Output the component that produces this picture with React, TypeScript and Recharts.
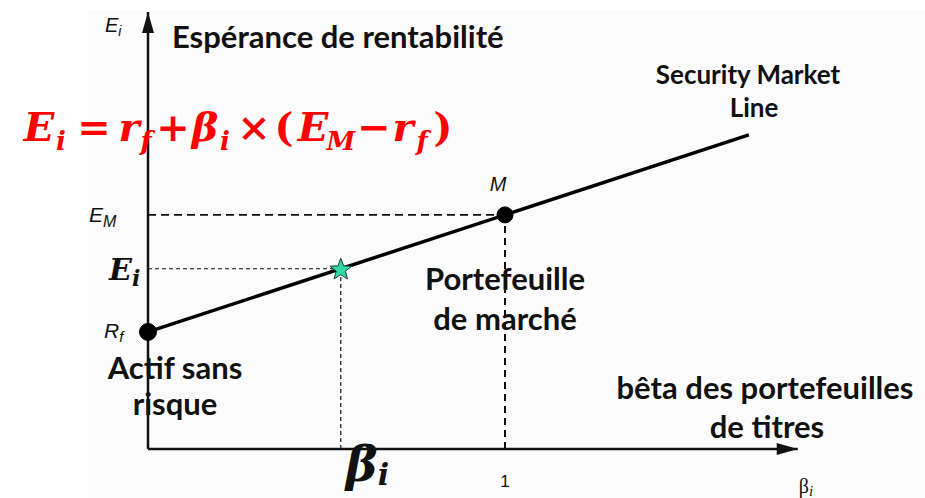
import React from 'react';
import { LineChart, Line, XAxis, YAxis, ReferenceLine, ReferenceDot } from 'recharts';

// Security Market Line (beta, expected return)
const smlBeta = [0, 1.683];
const smlReturn = [3, 8.05];

// named points on the line
const riskFree = { beta: 0, ret: 3 };
const market = { beta: 1, ret: 6 };
const asset = { beta: 0.54, ret: 4.62 };

// axis extents (arrow tips)
const xMax = 2;
const yMax = 11.2;
const xArrowEnd = 1.82;

const yTicks = [riskFree.ret, asset.ret, market.ret];
const xTicks = [asset.beta, market.beta, xArrowEnd];

const smlData = smlBeta.map((b, i) => ({ beta: b, ret: smlReturn[i] }));

const SANS = '"Liberation Sans", Arial, sans-serif';
const SERIF = '"DejaVu Serif", serif';
const BOLD = 'Lato, "Open Sans", sans-serif';

const starPoints = (cx: number, cy: number, R: number, r: number) => {
  const pts: string[] = [];
  for (let i = 0; i < 10; i++) {
    const a = (-90 + i * 36) * Math.PI / 180;
    const rad = i % 2 === 0 ? R : r;
    pts.push(`${cx + rad * Math.cos(a)},${cy + rad * Math.sin(a)}`);
  }
  return pts.join(' ');
};

const YTick = (props: any) => {
  const { x, y, payload } = props;
  const v = payload.value;
  if (v === market.ret) {
    return (
      <text x={x - 59} y={y + 7} fontFamily={SANS} fontStyle="italic" fontSize={21} fill="#111">
        E<tspan fontSize={16} dy={5}>M</tspan>
      </text>
    );
  }
  if (v === asset.ret) {
    return (
      <text x={x - 39} y={y + 11} fontFamily={SERIF} fontStyle="italic" fontWeight="bold" fontSize={30} fill="#111">
        E<tspan fontSize={22} dy={6}>i</tspan>
      </text>
    );
  }
  return (
    <text x={x - 44} y={y + 6} fontFamily={SANS} fontStyle="italic" fontSize={21} fill="#111">
      R<tspan fontSize={15} dy={4}>f</tspan>
    </text>
  );
};

const XTick = (props: any) => {
  const { x, y, payload } = props;
  const v = payload.value;
  if (v === asset.beta) {
    return (
      <text x={x + 5} y={y + 32} fontFamily={SERIF} fontStyle="italic" fontWeight="bold" fontSize={48} fill="#111">
        β<tspan fontSize={30} dy={4}>i</tspan>
      </text>
    );
  }
  if (v === market.beta) {
    return (
      <text x={x} y={y + 38} textAnchor="middle" fontFamily={SANS} fontSize={17} fill="#111">1</text>
    );
  }
  return (
    <text x={x + 1} y={y + 44} fontFamily='"Liberation Serif", serif' fontSize={20} fill="#111">
      β<tspan fontStyle="italic" fontSize={15} dy={3}>i</tspan>
    </text>
  );
};

// formula glyphs: text, centre x, subscript
const formula: [string, number, boolean][] = [
  ['E', 39, false], ['i', 61, true], ['=', 94, false], ['r', 129, false], ['f', 146, true],
  ['+', 173, false], ['β', 205, false], ['i', 225, true], ['×', 254, false], ['(', 284, false],
  ['E', 313, false], ['M', 341, true], ['−', 374, false], ['r', 403, false], ['f', 422, true], [')', 443, false],
];

export default function App() {
  return (
    <div style={{ position: 'absolute', left: 0, top: 0, width: 925, height: 498, background: '#fff' }}>
      <svg width={925} height={498} style={{ position: 'absolute', left: 0, top: 0 }}>
        <rect x={88} y={10} width={837} height={488} fill="#fbfbfb" />
      </svg>
      <div style={{ position: 'absolute', left: 0, top: 0 }}>
        <LineChart width={925} height={498} data={smlData} margin={{ top: 12, right: 63, bottom: 0, left: 0 }}>
          <XAxis
            type="number"
            dataKey="beta"
            domain={[0, xMax]}
            ticks={xTicks}
            interval={0}
            height={49}
            axisLine={false}
            tickLine={false}
            tickSize={0}
            tickMargin={0}
            tick={<XTick />}
          />
          <YAxis
            type="number"
            dataKey="ret"
            domain={[0, yMax]}
            ticks={yTicks}
            interval={0}
            width={148}
            axisLine={false}
            tickLine={false}
            tickSize={0}
            tickMargin={0}
            tick={<YTick />}
          />
          {/* axes */}
          <ReferenceLine segment={[{ x: 0, y: 0 }, { x: xArrowEnd, y: 0 }]} stroke="#111" strokeWidth={2.5} ifOverflow="visible" />
          <ReferenceLine segment={[{ x: 0, y: 0 }, { x: 0, y: yMax }]} stroke="#111" strokeWidth={2.5} ifOverflow="visible" />
          <ReferenceDot x={xArrowEnd} y={0} ifOverflow="visible"
            shape={(p: any) => <polygon points={`${p.cx},${p.cy} ${p.cx - 21},${p.cy - 6} ${p.cx - 21},${p.cy + 6}`} fill="#111" />} />
          <ReferenceDot x={0} y={yMax} ifOverflow="visible"
            shape={(p: any) => <polygon points={`${p.cx},${p.cy} ${p.cx - 6},${p.cy + 21} ${p.cx + 6},${p.cy + 21}`} fill="#111" />} />
          {/* guide lines */}
          <ReferenceLine segment={[{ x: 0, y: market.ret }, { x: market.beta, y: market.ret }]} stroke="#111" strokeWidth={1.6} strokeDasharray="8 5" />
          <ReferenceLine segment={[{ x: market.beta, y: 0 }, { x: market.beta, y: market.ret }]} stroke="#111" strokeWidth={2} strokeDasharray="7 5" />
          <ReferenceLine segment={[{ x: 0, y: asset.ret }, { x: asset.beta, y: asset.ret }]} stroke="#111" strokeWidth={1.2} strokeDasharray="4 3" />
          <ReferenceLine segment={[{ x: asset.beta, y: 0 }, { x: asset.beta, y: asset.ret }]} stroke="#111" strokeWidth={1.2} strokeDasharray="4 3" />
          <Line type="linear" dataKey="ret" stroke="#000" strokeWidth={3.5} dot={false} isAnimationActive={false} />
          <ReferenceDot x={riskFree.beta} y={riskFree.ret} r={8.5} fill="#000" stroke="#000" ifOverflow="visible" />
          <ReferenceDot x={market.beta} y={market.ret} r={8} fill="#000" stroke="#000" ifOverflow="visible" />
          <ReferenceDot x={asset.beta} y={asset.ret} ifOverflow="visible"
            shape={(p: any) => <polygon points={starPoints(p.cx, p.cy + 1, 11.5, 4.8)} fill="#2fd9a3" stroke="#1d3b33" strokeWidth={1} />} />
        </LineChart>
      </div>
      <svg width={925} height={498} style={{ position: 'absolute', left: 0, top: 0, pointerEvents: 'none' }}>
        <text x={105} y={32} fontFamily={SANS} fontStyle="italic" fontSize={20} fill="#111">
          E<tspan fontSize={14} dy={4}>i</tspan>
        </text>
        <text x={172} y={48} fontFamily={BOLD} fontWeight="bold" fontSize={31} fill="#111">Espérance de rentabilité</text>
        {formula.map(([s, x, sub], i) => (
          <text key={i} x={x} y={sub ? 150 : 141} textAnchor="middle" fontFamily={SERIF} fontWeight="bold"
            fontStyle={'=+×()−'.includes(s) ? 'normal' : 'italic'} fontSize={sub ? 26 : 40} fill="#ff0000">{s}</text>
        ))}
        <text x={748} y={84} textAnchor="middle" fontFamily={BOLD} fontWeight="bold" fontSize={26} fill="#111">Security Market</text>
        <text x={754} y={117} textAnchor="middle" fontFamily={BOLD} fontWeight="bold" fontSize={26} fill="#111">Line</text>
        <text x={498} y={191} textAnchor="middle" fontFamily={SANS} fontStyle="italic" fontSize={20} fill="#111">M</text>
        <text x={175} y={379} textAnchor="middle" fontFamily={BOLD} fontWeight="bold" fontSize={31} fill="#111">Actif sans</text>
        <text x={175} y={415} textAnchor="middle" fontFamily={BOLD} fontWeight="bold" fontSize={31} fill="#111">risque</text>
        <text x={505} y={290} textAnchor="middle" fontFamily={BOLD} fontWeight="bold" fontSize={31} fill="#111">Portefeuille</text>
        <text x={505} y={330} textAnchor="middle" fontFamily={BOLD} fontWeight="bold" fontSize={31} fill="#111">de marché</text>
        <text x={765} y={399} textAnchor="middle" fontFamily={BOLD} fontWeight="bold" fontSize={31} fill="#111">bêta des portefeuilles</text>
        <text x={767} y={438} textAnchor="middle" fontFamily={BOLD} fontWeight="bold" fontSize={31} fill="#111">de titres</text>
      </svg>
    </div>
  );
}
